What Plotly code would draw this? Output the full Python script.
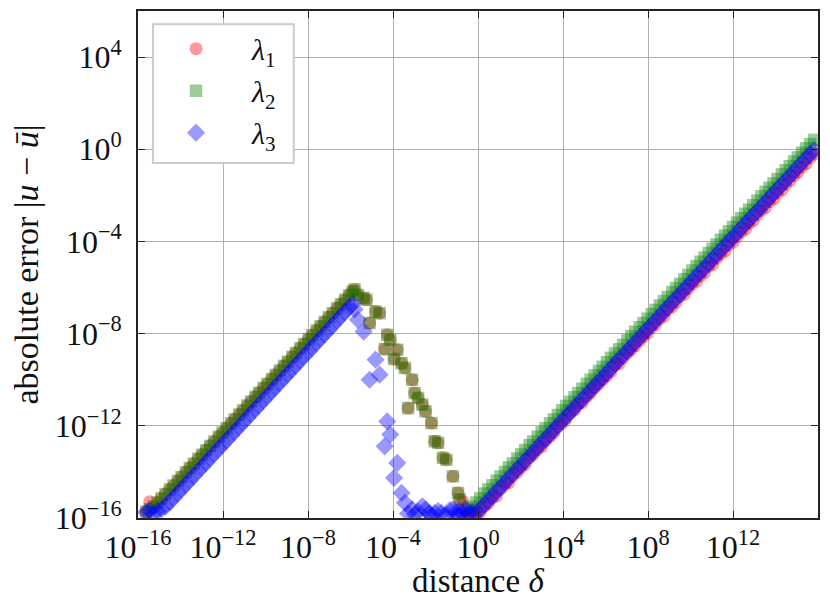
import plotly.graph_objects as go

# log10 of the distance delta (same grid for all three series)
log_delta = [
    # rising branch
    -15.62, -15.45, -15.27, -15.08, -14.90, -14.71, -14.50, -14.33, -14.12, -13.95,
    -13.74, -13.56, -13.37, -13.16, -12.98, -12.79, -12.60, -12.41, -12.20, -12.02,
    -11.83, -11.62, -11.45, -11.24, -11.06, -10.85, -10.68, -10.47, -10.30, -10.09,
    -9.91, -9.70, -9.52, -9.33, -9.13, -8.95, -8.74, -8.57, -8.36, -8.18,
    -7.97, -7.80, -7.59, -7.41, -7.22, -7.02, -6.84, -6.63, -6.45, -6.26,
    -6.06, -5.90, -5.81,
    # falling part
    -5.65, -5.38, -5.25, -5.10, -4.82, -4.63, -4.39, -4.27, -4.13, -3.95,
    -3.80, -3.60, -3.44, -3.29, -3.10, -2.98, -2.82, -2.62, -2.47, -2.30,
    -2.19, -2.04, -1.88, -1.72, -1.65, -1.49, -1.33, -1.18, -1.05, -0.94,
    -0.86, -0.71, -0.58,
    # growing branch
    -0.45, -0.27, -0.08, 0.10, 0.31, 0.49, 0.68, 0.88, 1.06, 1.27,
    1.45, 1.64, 1.85, 2.03, 2.22, 2.43, 2.60, 2.81, 3.00, 3.18,
    3.39, 3.57, 3.76, 3.96, 4.15, 4.33, 4.54, 4.72, 4.91, 5.12,
    5.30, 5.49, 5.69, 5.87, 6.07, 6.26, 6.45, 6.64, 6.83, 7.03,
    7.21, 7.40, 7.61, 7.79, 7.98, 8.18, 8.36, 8.56, 8.75, 8.93,
    9.14, 9.32, 9.51, 9.71, 9.90, 10.09, 10.28, 10.47, 10.66, 10.86,
    11.04, 11.23, 11.43, 11.62, 11.81, 12.00, 12.19, 12.38, 12.58, 12.76,
    12.95, 13.15, 13.34, 13.53, 13.72, 13.91, 14.10, 14.30, 14.48, 14.67,
    14.87, 15.05, 15.25, 15.44, 15.63, 15.82,
]

# log10 of the absolute error for lambda_1
log_err1 = [
    -15.72, -15.30, -15.50, -15.33, -15.15, -14.96, -14.76, -14.59, -14.39, -14.22,
    -14.01, -13.83, -13.64, -13.43, -13.25, -13.06, -12.87, -12.68, -12.47, -12.29,
    -12.10, -11.89, -11.72, -11.51, -11.33, -11.12, -10.95, -10.74, -10.57, -10.36,
    -10.18, -9.97, -9.79, -9.60, -9.40, -9.22, -9.01, -8.84, -8.63, -8.45,
    -8.24, -8.07, -7.86, -7.68, -7.49, -7.29, -7.11, -6.90, -6.72, -6.53,
    -6.33, -6.17, -6.08,
    -6.32, -6.45, -6.53, -7.54, -7.04, -7.11, -8.67, -8.05, -8.27, -9.10,
    -8.70, -9.28, -9.49, -11.23, -10.00, -10.58, -10.79, -11.08, -11.37, None,
    -11.88, -12.67, -12.74, None, -13.39, -13.47, None, -14.19, None, -14.91,
    -15.20, -15.28, -15.75,
    -15.80, -15.70, -15.85, -15.75, -15.49, -15.37, -15.13, -15.05, -14.75, -14.55,
    -14.47, -14.18, -14.02, -13.80, -13.67, -13.38, -13.25, -13.03, -12.90, -12.65,
    -12.47, -12.30, -12.03, -11.90, -11.70, -11.45, -11.32, -11.05, -11.00, -10.73,
    -10.57, -10.35, -10.19, -10.00, -9.83, -9.65, -9.37, -9.30, -9.05, -8.85,
    -8.70, -8.53, -8.30, -8.13, -7.99, -7.73, -7.60, -7.35, -7.25, -6.97,
    -6.83, -6.65, -6.37, -6.30, -6.05, -5.85, -5.73, -5.50, -5.35, -5.08,
    -5.00, -4.73, -4.55, -4.41, -4.15, -4.03, -3.80, -3.60, -3.47, -3.22,
    -3.10, -2.85, -2.65, -2.53, -2.27, -2.15, -1.90, -1.77, -1.53, -1.37,
    -1.15, -1.00, -0.77, -0.63, -0.37, -0.21,
]

# log10 of the absolute error for lambda_2
log_err2 = [
    -15.72, -15.62, -15.50, -15.33, -15.15, -14.96, -14.76, -14.59, -14.39, -14.22,
    -14.01, -13.83, -13.64, -13.43, -13.25, -13.06, -12.87, -12.68, -12.47, -12.29,
    -12.10, -11.89, -11.72, -11.51, -11.33, -11.12, -10.95, -10.74, -10.57, -10.36,
    -10.18, -9.97, -9.79, -9.60, -9.40, -9.22, -9.01, -8.84, -8.63, -8.45,
    -8.24, -8.07, -7.86, -7.68, -7.49, -7.29, -7.11, -6.90, -6.72, -6.53,
    -6.33, -6.17, -6.08,
    -6.32, -6.45, -6.53, -7.54, -7.04, -7.11, -8.67, -8.05, -8.27, -9.10,
    -8.70, -9.28, -9.49, -11.23, -10.00, -10.58, -10.79, -11.08, -11.37, None,
    -11.88, -12.67, -12.74, None, -13.39, -13.47, None, -14.19, None, -14.91,
    -15.20, None, None,
    -15.62, -15.52, -15.33, -15.15, -14.94, -14.76, -14.58, -14.38, -14.20, -14.00,
    -13.81, -13.63, -13.42, -13.24, -13.05, -12.84, -12.68, -12.47, -12.28, -12.10,
    -11.89, -11.72, -11.53, -11.33, -11.14, -10.96, -10.76, -10.58, -10.39, -10.18,
    -10.00, -9.81, -9.62, -9.44, -9.24, -9.05, -8.86, -8.68, -8.49, -8.29,
    -8.11, -7.92, -7.72, -7.54, -7.35, -7.15, -6.97, -6.78, -6.59, -6.41,
    -6.20, -6.02, -5.84, -5.64, -5.45, -5.26, -5.07, -4.88, -4.70, -4.50,
    -4.32, -4.13, -3.93, -3.75, -3.56, -3.37, -3.18, -2.99, -2.80, -2.62,
    -2.43, -2.23, -2.04, -1.85, -1.67, -1.48, -1.29, -1.09, -0.91, -0.73,
    -0.53, -0.35, -0.15, 0.04, 0.22, 0.41,
]

# log10 of the absolute error for lambda_3
log_err3 = [
    -15.75, -15.68, -15.80, -15.70, -15.62, -15.51, -15.30, -15.13, -14.92, -14.75,
    -14.54, -14.36, -14.17, -13.96, -13.78, -13.59, -13.40, -13.21, -13.00, -12.82,
    -12.63, -12.42, -12.25, -12.04, -11.86, -11.65, -11.48, -11.27, -11.10, -10.89,
    -10.71, -10.50, -10.32, -10.13, -9.93, -9.75, -9.54, -9.37, -9.16, -8.98,
    -8.77, -8.60, -8.39, -8.21, -8.02, -7.82, -7.64, -7.43, -7.25, -7.06,
    -6.86, -6.70, -6.95,
    -7.40, -7.91, None, -10.00, -9.13, -9.78, -12.89, -11.81, -12.38, -14.26,
    -13.61, -14.91, -15.34, -15.80, -15.63, -15.85, -15.72, -15.49, -15.63, -15.80,
    -15.90, -15.78, -15.70, -15.78, None, -15.85, -15.66, -15.63, -15.75, -15.88,
    -15.70, -15.78, -15.60,
    -15.80, -15.75, -15.78, -15.62, -15.41, -15.23, -15.05, -14.85, -14.67, -14.46,
    -14.28, -14.09, -13.88, -13.71, -13.52, -13.31, -13.14, -12.93, -12.74, -12.57,
    -12.36, -12.18, -11.99, -11.79, -11.60, -11.42, -11.22, -11.04, -10.85, -10.64,
    -10.46, -10.27, -10.08, -9.90, -9.70, -9.51, -9.32, -9.13, -8.94, -8.75,
    -8.57, -8.38, -8.17, -7.99, -7.80, -7.61, -7.43, -7.23, -7.04, -6.86,
    -6.65, -6.47, -6.29, -6.09, -5.90, -5.71, -5.52, -5.33, -5.15, -4.95,
    -4.77, -4.58, -4.38, -4.19, -4.00, -3.82, -3.63, -3.44, -3.24, -3.06,
    -2.87, -2.68, -2.49, -2.30, -2.11, -1.92, -1.73, -1.53, -1.36, -1.17,
    -0.97, -0.79, -0.59, -0.40, -0.21, -0.03,
]

# tick exponents
x_tick_exp = [-16, -12, -8, -4, 0, 4, 8, 12]
y_tick_exp = [-16, -12, -8, -4, 0, 4]


def to_values(exps):
    return [None if e is None else 10.0 ** e for e in exps]


def power_label(e):
    return "10<sup>%s</sup>" % str(e).replace("-", "\u2212")


FONT = "Liberation Serif"
INK = "#111111"
delta = to_values(log_delta)

series = [
    ("<i>\u03bb</i><sub>1</sub>", log_err1, "rgba(255,0,0,0.4)", "circle", 13),
    ("<i>\u03bb</i><sub>2</sub>", log_err2, "rgba(0,128,0,0.4)", "square", 12.5),
    ("<i>\u03bb</i><sub>3</sub>", log_err3, "rgba(0,0,255,0.4)", "diamond", 14),
]

fig = go.Figure()
for i, (label, errs, color, symbol, size) in enumerate(series):
    fig.add_trace(go.Scatter(
        x=delta, y=to_values(errs), mode="markers", name=label,
        legendgroup="g%d" % i,
        marker=dict(symbol=symbol, size=size, color=color, line=dict(width=0)),
    ))

axis_style = dict(
    type="log", showline=True, linecolor="#222222", linewidth=1.6, mirror="allticks",
    ticks="inside", ticklen=7, tickwidth=1.3, tickcolor="#222222",
    showgrid=True, gridcolor="#b0b0b0", gridwidth=1.2, zeroline=False,
    tickfont=dict(family=FONT, size=32, color=INK), automargin=False,
)

fig.update_xaxes(
    range=[-16, 16],
    tickvals=to_values(x_tick_exp), ticktext=[power_label(e) for e in x_tick_exp],
    ticklabelstandoff=0,
    **axis_style,
)
fig.update_yaxes(
    range=[-16, 6],
    tickvals=to_values(y_tick_exp), ticktext=[power_label(e) for e in y_tick_exp],
    title=dict(text="absolute error |<i>u</i> \u2212 <i>\u016b</i>|",
               font=dict(family=FONT, size=34, color=INK), standoff=8),
    ticklabelstandoff=8,
    **axis_style,
)

# x axis title placed as a paper annotation so it sits as close as in the original
fig.add_annotation(
    text="distance <i>\u03b4</i>", xref="paper", yref="paper", x=0.5, y=-0.124,
    xanchor="center", yanchor="middle", showarrow=False,
    font=dict(family=FONT, size=33, color=INK),
)

# legend frame (matplotlib style box), legend items sit on top of it
fig.add_shape(
    type="rect", xref="paper", yref="paper", layer="above",
    x0=0.022, x1=0.229, y0=0.70, y1=0.974,
    fillcolor="white", line=dict(color="#cccccc", width=2),
)

# page body has an 8px margin, so the figure is 8px smaller than the window
fig.update_layout(
    width=822, height=599,
    margin=dict(l=130, r=12, t=3, b=89),
    paper_bgcolor="white", plot_bgcolor="white",
    legend=dict(
        x=0.003, y=0.977, xanchor="left", yanchor="top",
        bgcolor="rgba(0,0,0,0)", borderwidth=0,
        font=dict(family=FONT, size=30, color=INK),
        itemwidth=102, traceorder="grouped", tracegroupgap=0,
    ),
    showlegend=True,
)

fig.write_html("out.html")
